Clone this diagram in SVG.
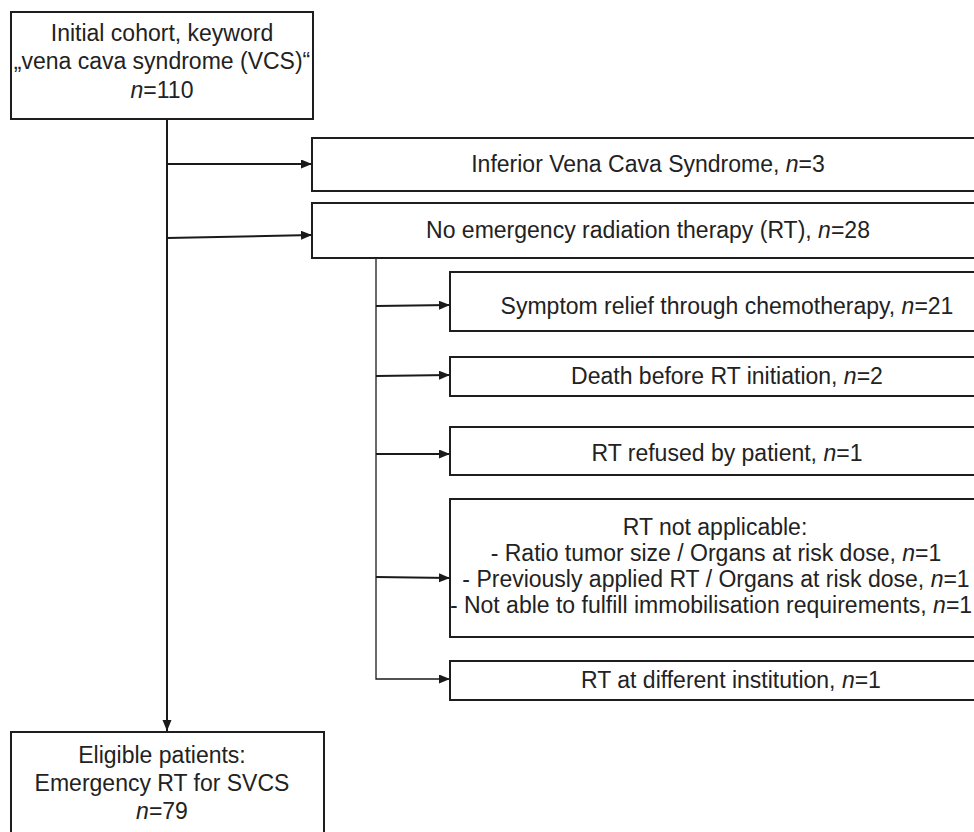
<svg xmlns="http://www.w3.org/2000/svg" width="974" height="832" viewBox="0 0 974 832">
<defs>
<style>
.box{fill:#fff;stroke:#1e1e1e;stroke-width:2}
.t{font-family:"Liberation Sans",Arial,sans-serif;font-size:23px;fill:#222;text-anchor:middle}
.i{font-style:italic}
.c{fill:none;stroke:#1a1a1a;stroke-width:2}
.c1{fill:none;stroke:#1a1a1a;stroke-width:1.3}
</style>
<marker id="ah" markerUnits="userSpaceOnUse" markerWidth="12" markerHeight="10" refX="11" refY="4.5" orient="auto">
<path d="M0,0 L11,4.5 L0,9 z" fill="#1a1a1a"/>
</marker>
</defs>
<rect width="974" height="832" fill="#fff"/>
<g id="connectors">
<line class="c" x1="167" y1="119" x2="167" y2="731" marker-end="url(#ah)"/>
<line class="c" x1="167" y1="164" x2="312" y2="164" marker-end="url(#ah)"/>
<line class="c" x1="167" y1="238" x2="312" y2="235" marker-end="url(#ah)"/>
<polyline class="c1" points="376,258 376,679 450,679" marker-end="url(#ah)"/>
<line class="c" x1="376" y1="306" x2="450" y2="305" marker-end="url(#ah)"/>
<line class="c" x1="376" y1="376" x2="450" y2="375" marker-end="url(#ah)"/>
<line class="c" x1="376" y1="454" x2="450" y2="454" marker-end="url(#ah)"/>
<line class="c" x1="376" y1="577" x2="450" y2="578" marker-end="url(#ah)"/>
</g>
<g id="initial">
<rect class="box" x="11" y="12" width="302" height="107"/>
<text class="t" x="162" y="41">Initial cohort, keyword</text>
<text class="t" x="162" y="69">„vena cava syndrome (VCS)“</text>
<text class="t" x="162" y="98"><tspan class="i">n</tspan>=110</text>
</g>
<g id="inferior">
<rect class="box" x="312" y="138" width="690" height="53"/>
<text class="t" x="648" y="172">Inferior Vena Cava Syndrome, <tspan class="i">n</tspan>=3</text>
</g>
<g id="noemergency">
<rect class="box" x="312" y="203" width="690" height="55"/>
<text class="t" x="648" y="238">No emergency radiation therapy (RT), <tspan class="i">n</tspan>=28</text>
</g>
<g id="symptom">
<rect class="box" x="450" y="272" width="560" height="59"/>
<text class="t" x="727" y="314">Symptom relief through chemotherapy, <tspan class="i">n</tspan>=21</text>
</g>
<g id="death">
<rect class="box" x="450" y="357" width="560" height="39"/>
<text class="t" x="727" y="384">Death before RT initiation, <tspan class="i">n</tspan>=2</text>
</g>
<g id="refused">
<rect class="box" x="450" y="427" width="560" height="48"/>
<text class="t" x="727" y="461">RT refused by patient, <tspan class="i">n</tspan>=1</text>
</g>
<g id="notapplicable">
<rect class="box" x="450" y="499" width="560" height="138"/>
<text class="t" x="715" y="535">RT not applicable:</text>
<text class="t" x="716" y="561">- Ratio tumor size / Organs at risk dose, <tspan class="i">n</tspan>=1</text>
<text class="t" x="716" y="587">- Previously applied RT / Organs at risk dose, <tspan class="i">n</tspan>=1</text>
<text class="t" x="711" y="613">- Not able to fulfill immobilisation requirements, <tspan class="i">n</tspan>=1</text>
</g>
<g id="different">
<rect class="box" x="450" y="661" width="560" height="39"/>
<text class="t" x="731" y="688">RT at different institution, <tspan class="i">n</tspan>=1</text>
</g>
<g id="eligible">
<rect class="box" x="11" y="732" width="313" height="120"/>
<text class="t" x="162" y="763">Eligible patients:</text>
<text class="t" x="162" y="791">Emergency RT for SVCS</text>
<text class="t" x="162" y="819"><tspan class="i">n</tspan>=79</text>
</g>
</svg>
